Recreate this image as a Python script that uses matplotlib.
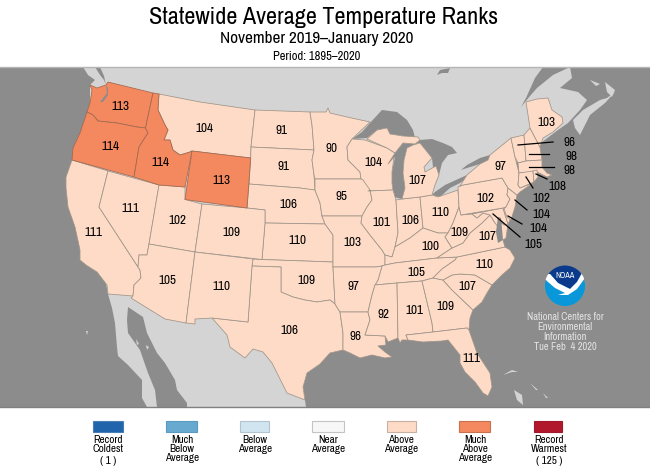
import matplotlib
matplotlib.use("Agg")
import matplotlib.pyplot as plt
from matplotlib.patches import Polygon, Rectangle, Circle

plt.rcParams['font.family'] = ['Archivo Narrow', 'Liberation Sans', 'DejaVu Sans']

TITLE = "Statewide Average Temperature Ranks"
SUBTITLE = "November 2019\u2013January 2020"
PERIOD = "Period: 1895\u20132020"
NCEI_LINES = ["National Centers for", "Environmental", "Information", "Tue Feb  4 2020"]

# state: rank
RANKS = dict(WA=113, OR=114, ID=114, MT=104, WY=113, ND=91, SD=91, NE=106, KS=110, OK=109, TX=106,
             CA=111, NV=111, UT=102, CO=109, AZ=105, NM=110, MN=90, IA=95, MO=103, AR=97, LA=96,
             WI=104, IL=101, MI=107, IN=106, OH=110, KY=100, TN=105, MS=92, AL=101, GA=109, FL=111,
             SC=107, NC=110, VA=107, WV=109, PA=102, NY=97, ME=103, VT=96, NH=98, MA=98, RI=108,
             CT=102, NJ=104, DE=104, MD=105)
# where each rank is written (map pixels)
LABEL_AT = dict(WA=(120,106), OR=(110,146), ID=(160,163), MT=(204,128), WY=(221,181), ND=(282,130),
                SD=(283,167), NE=(288,205), KS=(297,241), OK=(306,280), TX=(289,330), CA=(93,232),
                NV=(130,209), UT=(177,221), CO=(231,233), AZ=(167,281), NM=(221,287), MN=(331,149),
                IA=(341,196), MO=(352,243), AR=(353,286), LA=(355,337), WI=(373,163), IL=(381,222),
                MI=(417,181), IN=(410,220), OH=(440,213), KY=(430,247), TN=(416,272), MS=(384,315),
                AL=(414,310), GA=(445,307), FL=(471,359), SC=(467,287), NC=(484,265), VA=(487,237),
                WV=(459,232), PA=(485,199), NY=(500,166), ME=(546,123), VT=(569,142), NH=(571,156),
                MA=(569,170), RI=(557,186), CT=(541,198), NJ=(541,215), DE=(538,229), MD=(533,245))
LEADERS = dict(VT=((518,145),(553,142)), NH=((529,154),(549,154)), MA=((529,167),(554,167)),
               RI=((536,174),(547,179)), CT=((526,177),(533,188)), NJ=((515,200),(527,210)),
               DE=((508,216),(522,224)), MD=((493,214),(520,237)))

LEGEND_LABELS = [["Record", "Coldest", "( 1 )"], ["Much", "Below", "Average"], ["Below", "Average"],
                 ["Near", "Average"], ["Above", "Average"], ["Much", "Above", "Average"],
                 ["Record", "Warmest", "( 125 )"]]
LEGEND_COLORS = ["#2064ac", "#67a9cf", "#d1e5f0", "#f7f7f7", "#fddbc7", "#f4895f", "#b2182b"]
LEGEND_EDGES = ["#4a7fb5", "#5b9ac0", "#b4c4cf", "#c4c4c4", "#c9b0a2", "#c9704e", "#a0182b"]
LEGEND_X = [(93,122.5), (166,197), (240,269), (312,344), (387,416), (459,490), (534,562)]
LEGEND_CX = [108, 182, 255, 328, 401, 475, 549]
MUCH_ABOVE_FROM = 113

# geography, outlined in map pixels
STATES = dict(
 WA=[(90,85),(97,88),(106,85),(108,82),(153,93),(145.5,128),(137,127),(117,123),(98,121),(93,115),(87,112),(90,103),(92,90)],
 OR=[(87,112),(93,115),(98,121),(117,123),(137,127),(145.5,128),(148,133),(139,147),(134,177),(72,160),(73,148),(80,133)],
 ID=[(153,93),(159,94),(158,110),(165,125),(168,130),(164,140),(170,140),(173,150),(180,155),(190,152),(192,151),(185,187),(159,185),(134,177),(139,147),(148,133),(145.5,128)],
 MT=[(159,94),(200,102),(255,110),(251,147),(250.7,158),(192,151),(190,152),(180,155),(173,150),(170,140),(164,140),(168,130),(165,125),(158,110)],
 WY=[(192,151),(250.7,158),(247,208),(185,199.5)],
 ND=[(255,110),(310,112),(312,125),(314,150),(251,147)],
 SD=[(251,147),(314,150),(312,160),(314,175),(315,190),(313,190),(300,188),(249,184),(250.7,158)],
 NE=[(249,184),(300,188),(315,190),(320,203),(322,216),(325,224),(265,223),(265,210),(247,208)],
 KS=[(265,223),(325,224),(333,235),(333,262),(262,259.5)],
 OK=[(253,259),(262,259.5),(333,262),(333,267),(335,304),(330,300),(317,302),(305,300),(293,297),(281,292),(281,267),(252,266)],
 TX=[(252,266),(281,267),(281,292),(293,297),(305,300),(317,302),(330,300),(335,304),(340,312),(343,333),(343,350),(330,353),(320,364),(307,373),(303,387),(305,400),(287,393),(272,363),(263,352),(253,349),(245,358),(230,347),(227,335),(212,318),(248,322)],
 CA=[(72,160),(108,171),(99,207),(138,267),(140,270),(141,278),(134,285),(133,296),(108,294),(107,285),(97,272),(86,265),(80,260),(80,250),(75,227),(68,207),(66,188),(66,177)],
 NV=[(108,171),(159,185),(149,244),(147,255),(139,255),(138,267),(99,207)],
 UT=[(159,185),(185,187),(185,199.5),(202,204),(195,252),(149,244)],
 CO=[(202,204),(247,208),(265,210),(265,223),(262,259.5),(195,252)],
 AZ=[(149,244),(195,252),(186,323),(165,319),(131,298),(133,296),(134,285),(141,278),(140,270),(138,267),(139,255),(147,255)],
 NM=[(195,252),(253,259),(252,266),(248,322),(212,318),(195,319),(195,324),(186,323)],
 MN=[(310,112),(320,112),(326,112),(328,108),(330,113),(347,117),(370,122),(352,139),(347,147),(348,160),(360,172),(361,179),(315,179),(314,175),(312,160),(314,150),(312,125)],
 WI=[(352,139),(365,140),(387,148),(395,153),(388,164),(394,157),(392,172),(392,183),(393,190),(368,191),(363,180),(361,179),(360,172),(348,160),(347,147)],
 IA=[(315,179),(361,179),(363,180),(370,190),(372,200),(367,207),(362,216),(322,216),(320,203),(315,190)],
 MO=[(322,216),(362,216),(361,223),(370,235),(382,250),(385,255),(385,265),(382,266),(376,267),(333,267),(333,235),(325,224)],
 IL=[(368,191),(393,190),(396,200),(398,233),(395,247),(392,257),(385,255),(382,250),(370,235),(361,223),(362,216),(367,207),(372,200),(370,190)],
 IN=[(396,200),(402,199),(420,197),(423,228),(410,238),(395,247),(398,233)],
 OH=[(420,197),(432,195),(438,197),(458,190),(459,207),(453,223),(448,233),(438,233),(423,228)],
 MI=[(402,199),(420,197),(432,195),(435,185),(439,175),(436,166),(425,172),(424,167),(432,158),(420,143),(413,145),(407,148),(404,160),(403,173),(405,188)],
 UP=[(367,139),(387,148),(395,153),(403,143),(415,144),(420,140),(418,137),(403,136),(390,134),(387,128),(377,130)],
 KY=[(395,247),(410,238),(423,228),(438,233),(448,233),(445,237),(452,248),(437,258),(395,263),(385,265),(385,255),(392,257)],
 TN=[(385,265),(395,263),(437,258),(457,257),(455,260),(442,269),(433,278),(422,281),(397,283),(375,285),(378,280),(382,266)],
 AR=[(333,267),(376,267),(382,266),(378,280),(375,285),(372,295),(368,312),(340,312),(335,304)],
 LA=[(340,312),(368,312),(370,320),(365,335),(385,336),(386,345),(378,346),(385,352),(392,357),(385,358),(372,355),(360,358),(350,353),(343,350),(343,333)],
 MS=[(375,285),(397,283),(398,338),(388,342),(385,336),(365,335),(370,320),(368,312),(372,295)],
 AL=[(397,283),(422,281),(432,323),(433,332),(406,335),(408,340),(402,340),(400,343),(398,338)],
 GA=[(422,281),(433,278),(443,280),(452,290),(473,310),(470,318),(469,330),(467,328),(433,332),(432,323)],
 FL=[(406,335),(433,332),(467,328),(469,330),(477,353),(490,373),(492,387),(488,396),(483,393),(475,382),(465,372),(460,363),(460,355),(448,340),(442,341),(423,342),(408,340)],
 SC=[(443,280),(452,275),(460,274),(475,275),(492,285),(487,293),(482,302),(473,310),(452,290)],
 NC=[(433,278),(442,269),(455,260),(457,257),(505,247),(510,250),(515,258),(510,268),(502,275),(492,285),(475,275),(460,274),(452,275),(443,280)],
 VA=[(437,258),(452,248),(463,243),(470,233),(482,223),(490,215),(495,223),(503,224),(508,224),(506,238),(503,240),(505,247),(457,257)],
 WV=[(459,207),(461,215),(472,214),(477,218),(483,213),(490,215),(482,223),(470,233),(463,243),(452,248),(445,237),(448,233),(453,223)],
 MD=[(472,214),(503,208),(508,224),(504,225),(498,218),(499,228),(495,223),(490,215),(483,213),(477,218)],
 DE=[(503,208),(506,207),(510,220),(508,224)],
 PA=[(458,187),(463,185),(502,178),(508,188),(507,195),(510,199),(506,207),(503,208),(461,215),(459,207)],
 NJ=[(508,188),(517,195),(515,207),(511,220),(507,217),(504,209),(506,207),(510,199),(507,195)],
 NY=[(460,186),(467,175),(480,164),(488,160),(490,155),(511,138),(515,157),(519,173),(518,185),(520,188),(533,183),(520,192),(517,195),(508,188),(502,178),(463,185)],
 VT=[(511,138),(524,135),(526,161),(518,163),(515,157)],
 NH=[(524,135),(530,128),(540,147),(542,160),(526,161)],
 MA=[(518,163),(526,161),(542,160),(542,167),(547,173),(552,175),(547,177),(537,172),(519,173)],
 CT=[(519,173),(533,171),(534,182),(520,188),(518,185)],
 RI=[(533,171),(537,170),(538,177),(534,182)],
 ME=[(530,128),(526,102),(537,99),(548,98),(552,110),(562,117),(563,123),(553,132),(543,138),(540,147)],
)
NORTH_AMERICA = [(83,67),(88,75),(95,80),(90,85),(90,200),(108,294),(112,308),(115,323),(117,347),(118,356),(128,365),(142,380),(142,398),(147,407),(306,407),(305,400),(303,387),(307,373),(320,364),(340,330),(400,250),(558,130),(568,123),(580,110),(587,100),(578,92),(560,88),(572,78),(570,67)]
WATER = [
 [(128,307),(143,317),(147,333),(157,353),(165,363),(175,380),(177,390),(187,403),(187,407),(157,407),(155,390),(148,373),(140,350),(128,333),(127,320)],  # Gulf of California
 [(352,139),(362,132),(370,123),(382,110),(397,112),(407,120),(413,130),(415,138),(403,136),(390,134),(387,128),(377,130),(367,138)],  # Superior
 [(388,164),(395,153),(403,143),(415,144),(407,148),(404,160),(403,173),(405,188),(402,199),(394,197),(392,183),(392,172),(395,157)],  # Michigan
 [(415,144),(420,140),(432,139),(443,143),(452,147),(457,153),(448,155),(442,163),(439,175),(435,185),(432,158),(420,143)],  # Huron
 [(432,195),(435,192),(445,185),(467,175),(468,177),(460,183),(450,188),(440,197)],  # Erie
 [(461,170),(467,165),(480,158),(490,155),(488,160),(480,164),(467,168)],  # Ontario
 [(437,75),(440,70),(450,68),(448,73),(442,73)],  # Nipigon
 [(543,67),(535,78),(526,98),(521,107),(530,96),(537,88),(553,75),(570,67)],  # St Lawrence
 [(95,67),(100,75),(104,80),(106,85),(104,76),(100,67)],  # Georgia Strait
]
WATER_OVER_STATES = [
 [(106,85),(107,93),(100,102),(103,102),(108,95),(108,88)],  # Puget Sound
 [(498,217),(501,218),(503,240),(498,243),(496,232)],  # Chesapeake
]
ISLANDS = [
 [(615,92),(605,103),(590,115),(580,135),(575,128),(573,120),(583,110),(600,100),(607,98)],  # Nova Scotia
 [(605,82),(615,90),(612,97),(607,92)],  # Cape Breton
 [(590,80),(600,84),(596,86)],  # PEI
 [(514,390),(522,395),(523,405),(517,400)],  # Andros
 [(503,375),(512,370),(518,372),(512,372)], [(530,383),(538,390),(536,390)], [(543,393),(548,398),(546,398)],
 [(86,331),(88,331),(87,335)], [(136,339),(139,344),(137,345)], [(146,345),(149,347),(147,350)],
]

def st_color(rank):
    return LEGEND_COLORS[5] if rank >= MUCH_ABOVE_FROM else LEGEND_COLORS[4]

fig = plt.figure(figsize=(6.5, 4.75), dpi=100)
ax = fig.add_axes([0, 0, 1, 1])
ax.set_xlim(0, 650)
ax.set_ylim(475, 0)
ax.axis("off")

OCEAN = "#8c8c8c"
LAND = "#d4d4d4"
ax.add_patch(Rectangle((0, 67), 650, 340, fc=OCEAN, ec="none", zorder=1))
ax.plot([0, 650], [67, 67], color="#b5b5b5", lw=1.0, zorder=8)
ax.plot([0, 650], [407, 407], color="#808080", lw=1.0, zorder=8)
ax.add_patch(Polygon(NORTH_AMERICA, fc=LAND, ec="none", zorder=2))
for w in WATER:
    ax.add_patch(Polygon(w, fc=OCEAN, ec="none", zorder=3))
for isl in ISLANDS:
    ax.add_patch(Polygon(isl, fc=LAND, ec="none", zorder=3))

for name, pts in STATES.items():
    key = "MI" if name == "UP" else name
    rank = RANKS[key]
    edge = "#a0694f" if rank >= MUCH_ABOVE_FROM else "#a09488"
    ax.add_patch(Polygon(pts, fc=st_color(rank), ec=edge, lw=0.55, joinstyle="round", zorder=4 + (rank >= MUCH_ABOVE_FROM) * 0.5))
for w in WATER_OVER_STATES:
    ax.add_patch(Polygon(w, fc=OCEAN, ec="none", zorder=5))

for name, rank in RANKS.items():
    x, y = LABEL_AT[name]
    ax.text(x, y, str(rank), ha="center", va="center", fontsize=9.5, color="black", zorder=7)
for a, b in LEADERS.values():
    ax.plot([a[0], b[0]], [a[1], b[1]], color="black", lw=0.9, zorder=6)

ax.text(324, 17, TITLE, ha="center", va="center", fontsize=17.4)
ax.text(316.5, 39, SUBTITLE, ha="center", va="center", fontsize=12.4)
ax.text(316.5, 57, PERIOD, ha="center", va="center", fontsize=9)

# NOAA emblem
disc = Circle((565, 286), 20.5, fc="#0a97d9", ec="#a08f80", lw=0.5, zorder=6)
ax.add_patch(disc)
navy = Polygon([(540,260),(590,260),(590,273),(582,273),(577,282),(570,289),(558,283),(550,274),(540,274)], fc="#0b3a8c", ec="none", zorder=6.2)
ax.add_patch(navy)
navy.set_clip_path(disc)
swoosh = Polygon([(540,274),(550,274),(558,283),(570,289),(577,282),(582,273),(590,273),(585,278),(577,289),(568,295),(558,295),(565,293),(555,288),(548,282)], fc="white", ec="none", zorder=6.4)
ax.add_patch(swoosh)
swoosh.set_clip_path(disc)
ax.text(565, 276, "NOAA", ha="center", va="center", fontsize=6, color="white", fontweight="bold", zorder=7)

for y, line in zip([317, 327, 337, 347], NCEI_LINES):
    ax.text(565, y, line, ha="center", va="center", fontsize=7.5, color="#e4e4e4", zorder=7)

for (x0, x1), cx, color, edge, lines in zip(LEGEND_X, LEGEND_CX, LEGEND_COLORS, LEGEND_EDGES, LEGEND_LABELS):
    ax.add_patch(Rectangle((x0, 421), x1 - x0, 11, fc=color, ec=edge, lw=0.8, zorder=3))
    for i, line in enumerate(lines):
        y = 440 + 9 * i
        if line.startswith("("):
            y = 461
        ax.text(cx, y, line, ha="center", va="center", fontsize=8, color="black")

fig.savefig("out.png", dpi=100)
